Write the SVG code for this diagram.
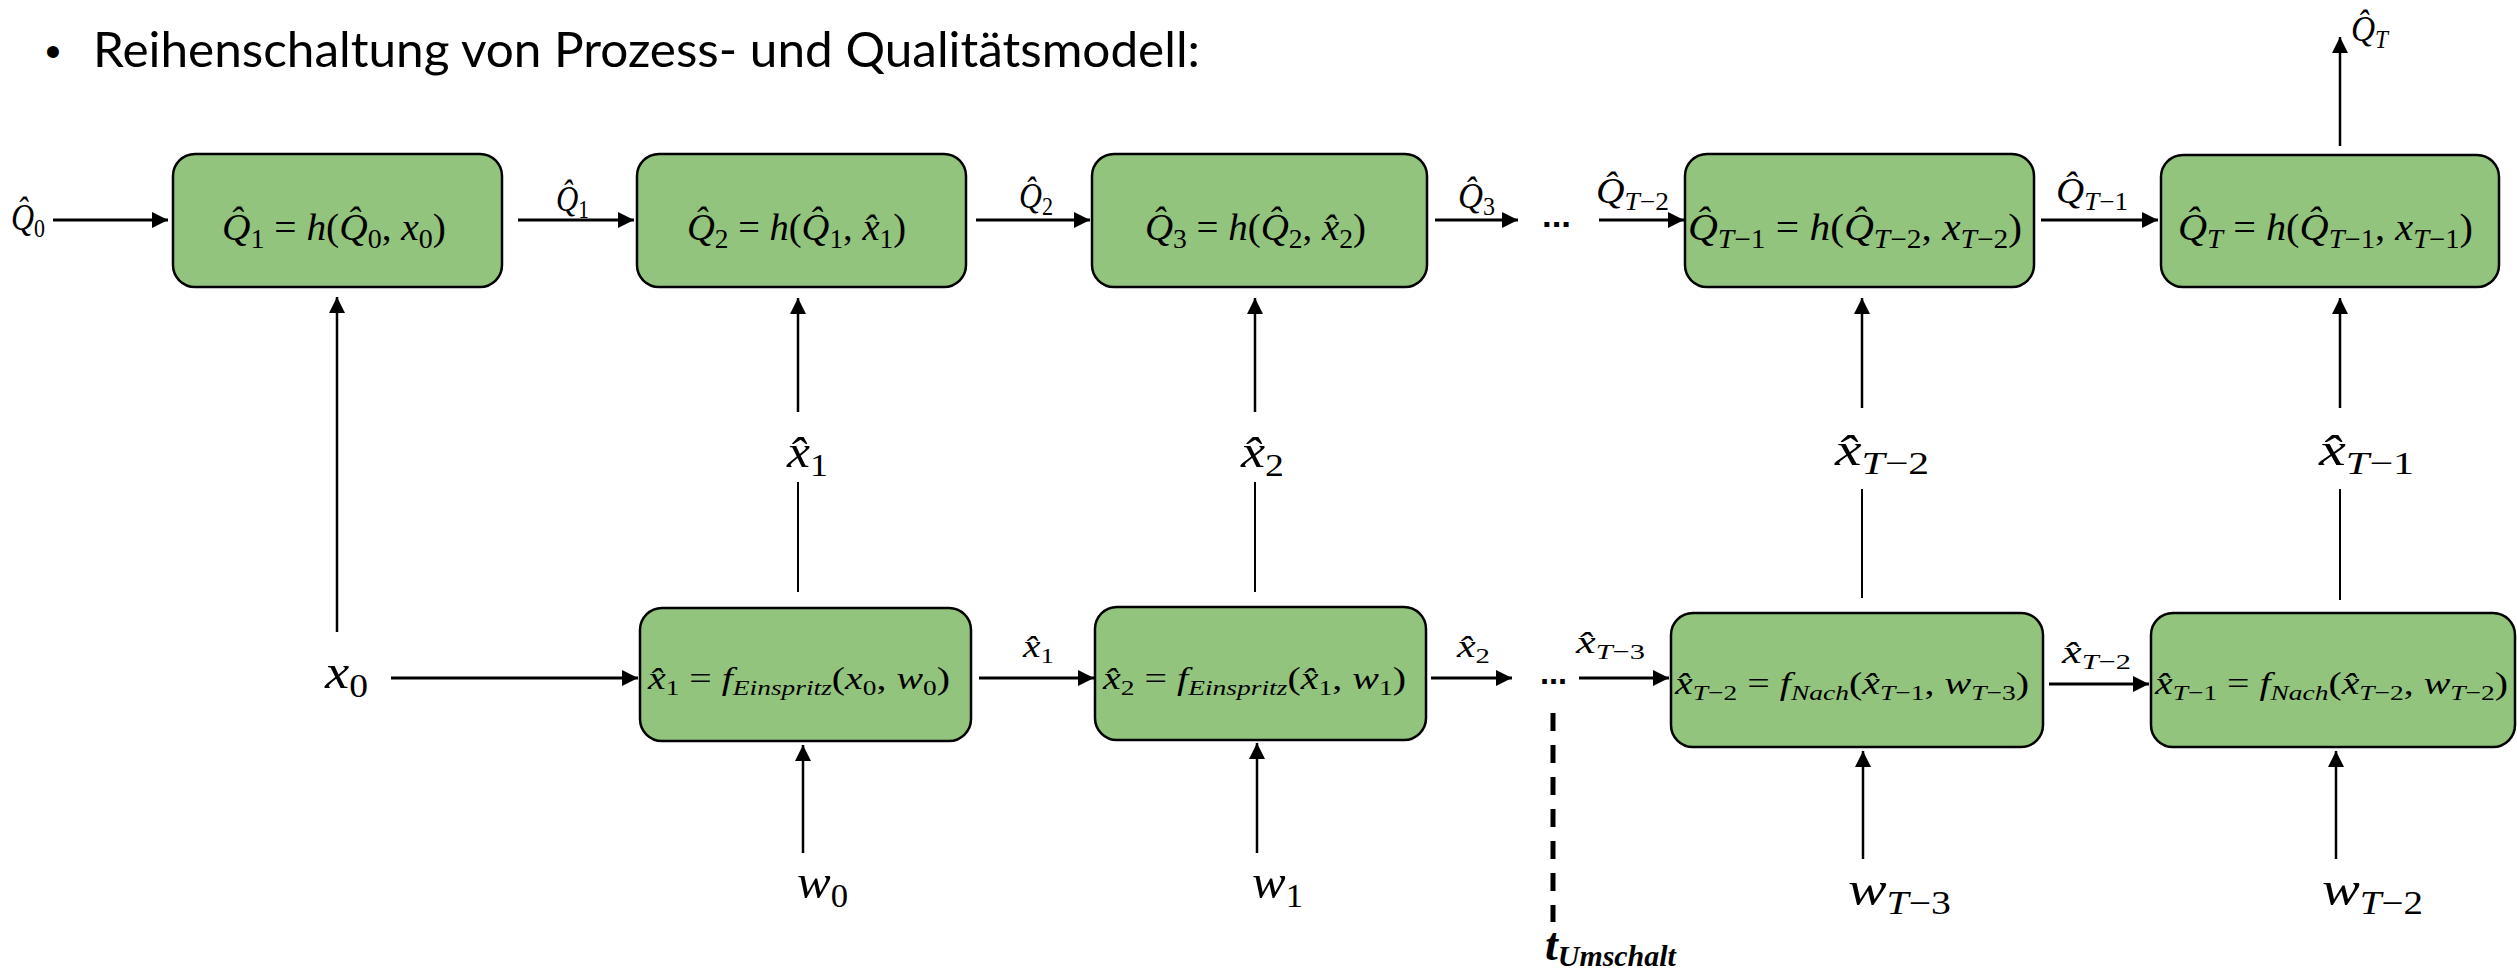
<svg xmlns="http://www.w3.org/2000/svg" width="2517" height="969" viewBox="0 0 2517 969">
<style>
.box{fill:#93C47D;stroke:#000;stroke-width:2.5}
.m{font-family:"Liberation Serif","DejaVu Serif",serif;fill:#000}
.i{font-style:italic}
.h{stroke:#000;stroke-width:3;fill:none}
.v{stroke:#000;stroke-width:2.5;fill:none}
.p{stroke:#000;stroke-width:2;fill:none}
.title{font-family:Lato,"Open Sans",sans-serif;font-size:48px;fill:#000}
.dots{font-family:"Liberation Sans",sans-serif;font-weight:bold;font-size:34px;fill:#000}
</style>
<defs>
<marker id="ah" markerUnits="userSpaceOnUse" markerWidth="16" markerHeight="16" refX="16" refY="8" orient="auto"><path d="M0,0 L16,8 L0,16 z" fill="#000"/></marker>
</defs>
<rect width="2517" height="969" fill="#fff"/>
<g id="title">
<text x="53" y="67" text-anchor="middle" font-family="Liberation Sans" font-size="44">•</text>
<text x="93" y="67" class="title" textLength="1107" lengthAdjust="spacingAndGlyphs">Reihenschaltung von Prozess- und Qualitätsmodell:</text>
</g>
<g id="connectors">
<line class="h" x1="53" y1="220" x2="168" y2="220" marker-end="url(#ah)"/>
<line class="h" x1="518" y1="220" x2="634" y2="220" marker-end="url(#ah)"/>
<line class="h" x1="976" y1="220" x2="1090" y2="220" marker-end="url(#ah)"/>
<line class="h" x1="1435" y1="220" x2="1518" y2="220" marker-end="url(#ah)"/>
<line class="h" x1="1599" y1="220" x2="1684" y2="220" marker-end="url(#ah)"/>
<line class="h" x1="2041" y1="220" x2="2158" y2="220" marker-end="url(#ah)"/>
<line class="v" x1="2340" y1="146" x2="2340" y2="37" marker-end="url(#ah)"/>
<line class="v" x1="337" y1="632" x2="337" y2="297" marker-end="url(#ah)"/>
<line class="v" x1="798" y1="412" x2="798" y2="298" marker-end="url(#ah)"/>
<line class="p" x1="798" y1="482" x2="798" y2="592"/>
<line class="v" x1="1255" y1="412" x2="1255" y2="298" marker-end="url(#ah)"/>
<line class="p" x1="1255" y1="482" x2="1255" y2="592"/>
<line class="v" x1="1862" y1="408" x2="1862" y2="298" marker-end="url(#ah)"/>
<line class="p" x1="1862" y1="489" x2="1862" y2="598"/>
<line class="v" x1="2340" y1="408" x2="2340" y2="298" marker-end="url(#ah)"/>
<line class="p" x1="2340" y1="489" x2="2340" y2="600"/>
<line class="v" x1="803" y1="853" x2="803" y2="745" marker-end="url(#ah)"/>
<line class="v" x1="1257" y1="853" x2="1257" y2="743" marker-end="url(#ah)"/>
<line class="v" x1="1863" y1="859" x2="1863" y2="751" marker-end="url(#ah)"/>
<line class="v" x1="2336" y1="859" x2="2336" y2="751" marker-end="url(#ah)"/>
<line class="h" x1="391" y1="678" x2="638" y2="678" marker-end="url(#ah)"/>
<line class="h" x1="979" y1="678" x2="1094" y2="678" marker-end="url(#ah)"/>
<line class="h" x1="1431" y1="678" x2="1512" y2="678" marker-end="url(#ah)"/>
<line class="h" x1="1579" y1="678" x2="1669" y2="678" marker-end="url(#ah)"/>
<line class="h" x1="2049" y1="684" x2="2149" y2="684" marker-end="url(#ah)"/>
<line x1="1553" y1="713" x2="1553" y2="922" stroke="#000" stroke-width="5" stroke-dasharray="18 14"/>
</g>
<g id="labels">
<text class="m" x="11" y="230" font-size="38" textLength="34" lengthAdjust="spacingAndGlyphs"><tspan class="i">Q̂</tspan><tspan font-size="26" dy="7">0</tspan></text>
<text class="m" x="556" y="211" font-size="36" textLength="33" lengthAdjust="spacingAndGlyphs"><tspan class="i">Q̂</tspan><tspan font-size="25" dy="7">1</tspan></text>
<text class="m" x="1019" y="208" font-size="36" textLength="34" lengthAdjust="spacingAndGlyphs"><tspan class="i">Q̂</tspan><tspan font-size="25" dy="7">2</tspan></text>
<text class="m" x="1458" y="208" font-size="36" textLength="37" lengthAdjust="spacingAndGlyphs"><tspan class="i">Q̂</tspan><tspan font-size="25" dy="7">3</tspan></text>
<text class="dots" x="1542" y="227" textLength="29" lengthAdjust="spacingAndGlyphs">...</text>
<text class="m" x="1596" y="203" font-size="36" textLength="73" lengthAdjust="spacingAndGlyphs"><tspan class="i">Q̂</tspan><tspan font-size="25" dy="7"><tspan class="i">T</tspan>−2</tspan></text>
<text class="m" x="2056" y="203" font-size="36" textLength="72" lengthAdjust="spacingAndGlyphs"><tspan class="i">Q̂</tspan><tspan font-size="25" dy="7"><tspan class="i">T</tspan>−1</tspan></text>
<text class="m" x="2351" y="41" font-size="36" textLength="37" lengthAdjust="spacingAndGlyphs"><tspan class="i">Q̂</tspan><tspan font-size="25" dy="7" class="i">T</tspan></text>
<text class="m" x="787" y="467" font-size="46" textLength="41" lengthAdjust="spacingAndGlyphs"><tspan class="i">x̂</tspan><tspan font-size="32" dy="9">1</tspan></text>
<text class="m" x="1241" y="467" font-size="46" textLength="43" lengthAdjust="spacingAndGlyphs"><tspan class="i">x̂</tspan><tspan font-size="32" dy="9">2</tspan></text>
<text class="m" x="1835" y="465" font-size="46" textLength="94" lengthAdjust="spacingAndGlyphs"><tspan class="i">x̂</tspan><tspan font-size="32" dy="9"><tspan class="i">T</tspan>−2</tspan></text>
<text class="m" x="2319" y="465" font-size="46" textLength="95" lengthAdjust="spacingAndGlyphs"><tspan class="i">x̂</tspan><tspan font-size="32" dy="9"><tspan class="i">T</tspan>−1</tspan></text>
<text class="m" x="325" y="688" font-size="48" textLength="43" lengthAdjust="spacingAndGlyphs"><tspan class="i">x</tspan><tspan font-size="33" dy="9">0</tspan></text>
<text class="m" x="797" y="898" font-size="48" textLength="51" lengthAdjust="spacingAndGlyphs"><tspan class="i">w</tspan><tspan font-size="33" dy="9">0</tspan></text>
<text class="m" x="1252" y="898" font-size="48" textLength="51" lengthAdjust="spacingAndGlyphs"><tspan class="i">w</tspan><tspan font-size="33" dy="9">1</tspan></text>
<text class="m" x="1848" y="905" font-size="48" textLength="103" lengthAdjust="spacingAndGlyphs"><tspan class="i">w</tspan><tspan font-size="33" dy="9"><tspan class="i">T</tspan>−3</tspan></text>
<text class="m" x="2322" y="905" font-size="48" textLength="101" lengthAdjust="spacingAndGlyphs"><tspan class="i">w</tspan><tspan font-size="33" dy="9"><tspan class="i">T</tspan>−2</tspan></text>
<text class="m" x="1023" y="657" font-size="32" textLength="31" lengthAdjust="spacingAndGlyphs"><tspan class="i">x̂</tspan><tspan font-size="22" dy="6">1</tspan></text>
<text class="m" x="1457" y="657" font-size="32" textLength="33" lengthAdjust="spacingAndGlyphs"><tspan class="i">x̂</tspan><tspan font-size="22" dy="6">2</tspan></text>
<text class="dots" x="1540" y="684" textLength="27" lengthAdjust="spacingAndGlyphs">...</text>
<text class="m" x="1576" y="653" font-size="32" textLength="69" lengthAdjust="spacingAndGlyphs"><tspan class="i">x̂</tspan><tspan font-size="22" dy="6"><tspan class="i">T</tspan>−3</tspan></text>
<text class="m" x="2062" y="663" font-size="32" textLength="69" lengthAdjust="spacingAndGlyphs"><tspan class="i">x̂</tspan><tspan font-size="22" dy="6"><tspan class="i">T</tspan>−2</tspan></text>
<text class="m" x="1545" y="960" font-size="46" font-weight="bold" font-style="italic">t<tspan font-size="30" dy="6" textLength="118" lengthAdjust="spacingAndGlyphs">Umschalt</tspan></text>
</g>
<g id="node-q1">
<rect class="box" x="173" y="154" width="329" height="133" rx="22"/>
<text class="m" x="222" y="240" font-size="38" textLength="224" lengthAdjust="spacingAndGlyphs"><tspan class="i">Q̂</tspan><tspan font-size="27" dy="8">1</tspan><tspan dy="-8"> = </tspan><tspan class="i">h</tspan>(<tspan class="i">Q̂</tspan><tspan font-size="27" dy="8">0</tspan><tspan dy="-8">, </tspan><tspan class="i">x</tspan><tspan font-size="27" dy="8">0</tspan><tspan dy="-8">)</tspan></text>
</g>
<g id="node-q2">
<rect class="box" x="637" y="154" width="329" height="133" rx="22"/>
<text class="m" x="687" y="240" font-size="38" textLength="219" lengthAdjust="spacingAndGlyphs"><tspan class="i">Q̂</tspan><tspan font-size="27" dy="8">2</tspan><tspan dy="-8"> = </tspan><tspan class="i">h</tspan>(<tspan class="i">Q̂</tspan><tspan font-size="27" dy="8">1</tspan><tspan dy="-8">, </tspan><tspan class="i">x̂</tspan><tspan font-size="27" dy="8">1</tspan><tspan dy="-8">)</tspan></text>
</g>
<g id="node-q3">
<rect class="box" x="1092" y="154" width="335" height="133" rx="22"/>
<text class="m" x="1145" y="240" font-size="38" textLength="221" lengthAdjust="spacingAndGlyphs"><tspan class="i">Q̂</tspan><tspan font-size="27" dy="8">3</tspan><tspan dy="-8"> = </tspan><tspan class="i">h</tspan>(<tspan class="i">Q̂</tspan><tspan font-size="27" dy="8">2</tspan><tspan dy="-8">, </tspan><tspan class="i">x̂</tspan><tspan font-size="27" dy="8">2</tspan><tspan dy="-8">)</tspan></text>
</g>
<g id="node-qt1">
<rect class="box" x="1685" y="154" width="349" height="133" rx="22"/>
<text class="m" x="1688" y="240" font-size="38" textLength="334" lengthAdjust="spacingAndGlyphs"><tspan class="i">Q̂</tspan><tspan font-size="27" dy="8"><tspan class="i">T</tspan>−1</tspan><tspan dy="-8"> = </tspan><tspan class="i">h</tspan>(<tspan class="i">Q̂</tspan><tspan font-size="27" dy="8"><tspan class="i">T</tspan>−2</tspan><tspan dy="-8">, </tspan><tspan class="i">x</tspan><tspan font-size="27" dy="8"><tspan class="i">T</tspan>−2</tspan><tspan dy="-8">)</tspan></text>
</g>
<g id="node-qt">
<rect class="box" x="2161" y="155" width="338" height="132" rx="22"/>
<text class="m" x="2178" y="240" font-size="38" textLength="295" lengthAdjust="spacingAndGlyphs"><tspan class="i">Q̂</tspan><tspan font-size="27" dy="8" class="i">T</tspan><tspan dy="-8"> = </tspan><tspan class="i">h</tspan>(<tspan class="i">Q̂</tspan><tspan font-size="27" dy="8"><tspan class="i">T</tspan>−1</tspan><tspan dy="-8">, </tspan><tspan class="i">x</tspan><tspan font-size="27" dy="8"><tspan class="i">T</tspan>−1</tspan><tspan dy="-8">)</tspan></text>
</g>
<g id="node-x1">
<rect class="box" x="640" y="608" width="331" height="133" rx="22"/>
<text class="m" x="648" y="689" font-size="32" textLength="302" lengthAdjust="spacingAndGlyphs"><tspan class="i">x̂</tspan><tspan font-size="22" dy="6">1</tspan><tspan dy="-6"> = </tspan><tspan class="i">f</tspan><tspan font-size="22" dy="6" class="i">Einspritz</tspan><tspan dy="-6">(</tspan><tspan class="i">x</tspan><tspan font-size="22" dy="6">0</tspan><tspan dy="-6">, </tspan><tspan class="i">w</tspan><tspan font-size="22" dy="6">0</tspan><tspan dy="-6">)</tspan></text>
</g>
<g id="node-x2">
<rect class="box" x="1095" y="607" width="331" height="133" rx="22"/>
<text class="m" x="1103" y="689" font-size="32" textLength="303" lengthAdjust="spacingAndGlyphs"><tspan class="i">x̂</tspan><tspan font-size="22" dy="6">2</tspan><tspan dy="-6"> = </tspan><tspan class="i">f</tspan><tspan font-size="22" dy="6" class="i">Einspritz</tspan><tspan dy="-6">(</tspan><tspan class="i">x̂</tspan><tspan font-size="22" dy="6">1</tspan><tspan dy="-6">, </tspan><tspan class="i">w</tspan><tspan font-size="22" dy="6">1</tspan><tspan dy="-6">)</tspan></text>
</g>
<g id="node-xt2">
<rect class="box" x="1671" y="613" width="372" height="134" rx="22"/>
<text class="m" x="1675" y="694" font-size="32" textLength="354" lengthAdjust="spacingAndGlyphs"><tspan class="i">x̂</tspan><tspan font-size="22" dy="6"><tspan class="i">T</tspan>−2</tspan><tspan dy="-6"> = </tspan><tspan class="i">f</tspan><tspan font-size="22" dy="6" class="i">Nach</tspan><tspan dy="-6">(</tspan><tspan class="i">x̂</tspan><tspan font-size="22" dy="6"><tspan class="i">T</tspan>−1</tspan><tspan dy="-6">, </tspan><tspan class="i">w</tspan><tspan font-size="22" dy="6"><tspan class="i">T</tspan>−3</tspan><tspan dy="-6">)</tspan></text>
</g>
<g id="node-xt1">
<rect class="box" x="2151" y="613" width="364" height="134" rx="22"/>
<text class="m" x="2155" y="694" font-size="32" textLength="353" lengthAdjust="spacingAndGlyphs"><tspan class="i">x̂</tspan><tspan font-size="22" dy="6"><tspan class="i">T</tspan>−1</tspan><tspan dy="-6"> = </tspan><tspan class="i">f</tspan><tspan font-size="22" dy="6" class="i">Nach</tspan><tspan dy="-6">(</tspan><tspan class="i">x̂</tspan><tspan font-size="22" dy="6"><tspan class="i">T</tspan>−2</tspan><tspan dy="-6">, </tspan><tspan class="i">w</tspan><tspan font-size="22" dy="6"><tspan class="i">T</tspan>−2</tspan><tspan dy="-6">)</tspan></text>
</g>
</svg>
